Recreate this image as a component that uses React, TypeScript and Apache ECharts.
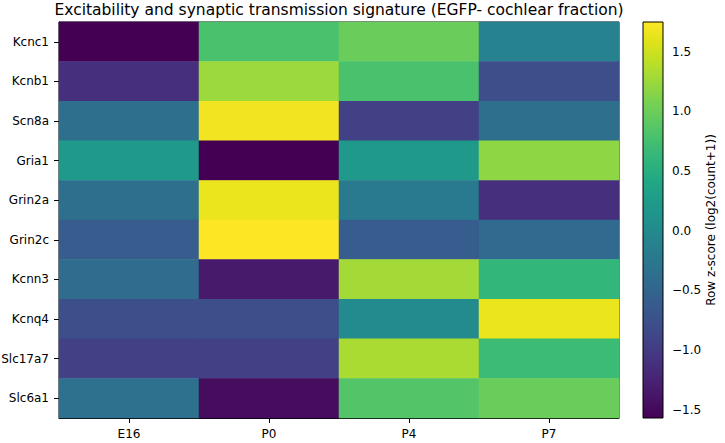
import React, { useEffect, useRef } from "react";
import * as echarts from "echarts";

const title = "Excitability and synaptic transmission signature (EGFP- cochlear fraction)";
const stages = ["E16", "P0", "P4", "P7"];
const genes = ["Kcnc1", "Kcnb1", "Scn8a", "Gria1", "Grin2a", "Grin2c", "Kcnn3", "Kcnq4", "Slc17a7", "Slc6a1"];
const kcnc1 = [-1.57, 0.79, 0.99, -0.11];
const kcnb1 = [-1.11, 1.25, 0.79, -0.77];
const scn8a = [-0.37, 1.68, -0.94, -0.37];
const gria1 = [0.22, -1.57, 0.22, 1.19];
const grin2a = [-0.37, 1.65, -0.21, -1.11];
const grin2c = [-0.6, 1.75, -0.6, -0.43];
const kcnn3 = [-0.41, -1.34, 1.29, 0.62];
const kcnq4 = [-0.77, -0.77, 0.0, 1.65];
const slc17a7 = [-0.94, -0.94, 1.32, 0.69];
const slc6a1 = [-0.34, -1.47, 0.85, 0.99];
const rows = [kcnc1, kcnb1, scn8a, gria1, grin2a, grin2c, kcnn3, kcnq4, slc17a7, slc6a1];
const vMin = -1.57;
const vMax = 1.75;
const cbarTicks = [-1.5, -1.0, -0.5, 0.0, 0.5, 1.0, 1.5];
const cbarLabel = "Row z-score (log2(count+1))";

const viridis = [
  "#440154", "#471365", "#482475", "#463480", "#414487", "#3b528b", "#355f8d",
  "#2f6c8e", "#2a788e", "#25848e", "#21918c", "#1e9c89", "#22a884", "#2fb47c",
  "#44bf70", "#5ec962", "#7ad151", "#9bd93c", "#bddf26", "#dfe318", "#fde725",
];

const FONT = "DejaVu Sans";

export default function App() {
  const ref = useRef<HTMLDivElement>(null);
  useEffect(() => {
    if (!ref.current) return;
    const chart = echarts.init(ref.current, null, { renderer: "svg" });
    const data: [number, number, number][] = [];
    rows.forEach((r, yi) => r.forEach((v, xi) => data.push([xi, yi, v])));

    const plot = { left: 59, top: 22, right: 619, bottom: 418 };
    const cb = { left: 643, top: 22, width: 20, height: 396 };

    const n = viridis.length;
    const stops = viridis.map((_, i) => ({ offset: i / (n - 1), color: viridis[n - 1 - i] }));

    chart.setOption({
      animation: false,
      backgroundColor: "#ffffff",
      textStyle: { fontFamily: FONT },
      title: {
        text: title,
        left: (plot.left + plot.right) / 2,
        textAlign: "center",
        top: 2,
        padding: 0,
        textStyle: { fontFamily: FONT, fontSize: 15.5, fontWeight: "normal", color: "#000" },
      },
      grid: [
        {
          left: plot.left,
          top: plot.top,
          width: plot.right - plot.left,
          height: plot.bottom - plot.top,
          outerBoundsMode: "none",
          containLabel: false,
          show: true,
          borderColor: "#000",
          borderWidth: 1,
          backgroundColor: "transparent",
        },
        {
          left: cb.left,
          top: cb.top,
          width: cb.width,
          height: cb.height,
          outerBoundsMode: "none",
          containLabel: false,
          show: false,
        },
      ],
      xAxis: [
        {
          type: "category",
          data: stages,
          gridIndex: 0,
          axisLine: { show: true, lineStyle: { color: "#000", width: 1 } },
          axisTick: { show: true, alignWithLabel: true, length: 5, lineStyle: { color: "#000" } },
          axisLabel: { color: "#000", fontSize: 12, fontFamily: FONT, margin: 10 },
          splitLine: { show: false },
          splitArea: { show: false },
        },
        {
          type: "value",
          gridIndex: 1,
          min: 0,
          max: 1,
          show: false,
        },
      ],
      yAxis: [
        {
          type: "category",
          data: genes,
          inverse: true,
          gridIndex: 0,
          axisLine: { show: true, lineStyle: { color: "#000", width: 1 } },
          axisTick: { show: true, alignWithLabel: true, length: 5, lineStyle: { color: "#000" } },
          axisLabel: { color: "#000", fontSize: 12, fontFamily: FONT, margin: 10 },
          splitLine: { show: false },
          splitArea: { show: false },
        },
        {
          type: "value",
          gridIndex: 1,
          position: "right",
          min: vMin,
          max: vMax,
          axisLine: { show: false },
          axisTick: {
            show: true,
            length: 5,
            customValues: cbarTicks,
            lineStyle: { color: "#000" },
          },
          axisLabel: {
            show: true,
            customValues: cbarTicks,
            color: "#000",
            fontSize: 12,
            fontFamily: FONT,
            margin: 9,
            formatter: (v: number) => v.toFixed(1).replace("-", "\u2212"),
          },
          splitLine: { show: false },
          name: cbarLabel,
          nameLocation: "middle",
          nameRotate: 90,
          nameGap: 42,
          nameTextStyle: { color: "#000", fontSize: 12, fontFamily: FONT },
        },
      ],
      visualMap: {
        show: false,
        type: "continuous",
        min: vMin,
        max: vMax,
        dimension: 2,
        seriesIndex: 0,
        inRange: { color: viridis },
      },
      graphic: [
        {
          type: "rect",
          z: 10,
          shape: { x: cb.left, y: cb.top, width: cb.width, height: cb.height },
          style: {
            fill: new echarts.graphic.LinearGradient(0, 0, 0, 1, stops),
            stroke: "#000",
            lineWidth: 1,
          },
        },
      ],
      series: [
        {
          type: "heatmap",
          xAxisIndex: 0,
          yAxisIndex: 0,
          data,
          itemStyle: { borderWidth: 0 },
          emphasis: { disabled: true },
        },
        {
          type: "line",
          xAxisIndex: 1,
          yAxisIndex: 1,
          data: [],
          silent: true,
        },
      ],
    });
    return () => chart.dispose();
  }, []);
  return <div ref={ref} style={{ width: 725, height: 443, position: "absolute", left: 0, top: 0 }} />;
}
